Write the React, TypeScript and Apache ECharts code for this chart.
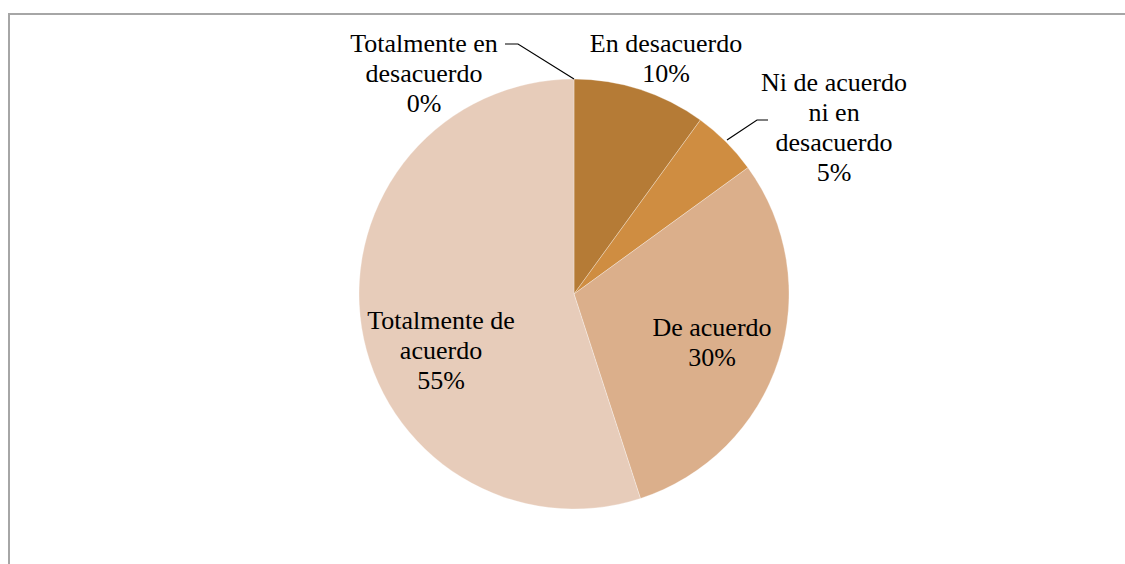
import React, { useEffect, useRef } from "react";
import * as echarts from "echarts";

const categories = [
  "Totalmente en desacuerdo",
  "En desacuerdo",
  "Ni de acuerdo ni en desacuerdo",
  "De acuerdo",
  "Totalmente de acuerdo",
];
const values = [0, 10, 5, 30, 55];
const labelTexts = [
  "Totalmente en\ndesacuerdo",
  "En desacuerdo",
  "Ni de acuerdo\nni en\ndesacuerdo",
  "De acuerdo",
  "Totalmente de\nacuerdo",
];
const colors = ["#B67B36", "#B57B36", "#CF8D41", "#DBAF8B", "#E7CCBA"];

// label centre positions (layout only)
const labelPos: [number, number][] = [
  [424, 73],
  [666, 58],
  [834, 127],
  [712, 342],
  [441, 350],
];
const leaderLines: number[][][] = [
  [[574, 79], [518, 44], [505, 44]],
  [[727, 140], [757, 120], [768, 120]],
];

const FONT = "Liberation Serif";
const total = values.reduce((a, b) => a + b, 0);

export default function App() {
  const ref = useRef<HTMLDivElement>(null);
  useEffect(() => {
    if (!ref.current) return;
    const chart = echarts.init(ref.current, null, { renderer: "svg" });
    const labelGraphics = categories.map((_, i) => ({
      type: "text",
      x: labelPos[i][0],
      y: labelPos[i][1],
      silent: true,
      z: 10,
      style: {
        text: `${labelTexts[i]}\n${Math.round((values[i] / total) * 100)}%`,
        fontFamily: FONT,
        fontSize: 26,
        lineHeight: 30,
        fill: "#000",
        align: "center",
        verticalAlign: "middle",
      },
    }));
    const lineGraphics = leaderLines.map((pts) => ({
      type: "polyline",
      silent: true,
      z: 10,
      shape: { points: pts },
      style: { stroke: "#000", lineWidth: 1.2, fill: "none" },
    }));
    chart.setOption({
      animation: false,
      backgroundColor: "#fff",
      graphic: [
        {
          type: "polyline",
          shape: { points: [[9, 564], [9, 14], [1125, 14]] },
          style: { stroke: "#a6a6a6", lineWidth: 2, fill: "none" },
          silent: true,
        },
        ...lineGraphics,
        ...labelGraphics,
      ],
      series: [
        {
          type: "pie",
          center: [574, 294],
          radius: 215,
          startAngle: 90,
          clockwise: true,
          itemStyle: { borderColor: "rgba(255,255,255,0.5)", borderWidth: 0.6 },
          label: { show: false },
          labelLine: { show: false },
          data: categories.map((name, i) => ({
            name,
            value: values[i],
            itemStyle: { color: colors[i] },
          })),
        },
      ],
    });
    return () => chart.dispose();
  }, []);
  return (
    <div
      ref={ref}
      style={{ position: "fixed", left: 0, top: 0, width: 1125, height: 564 }}
    />
  );
}
